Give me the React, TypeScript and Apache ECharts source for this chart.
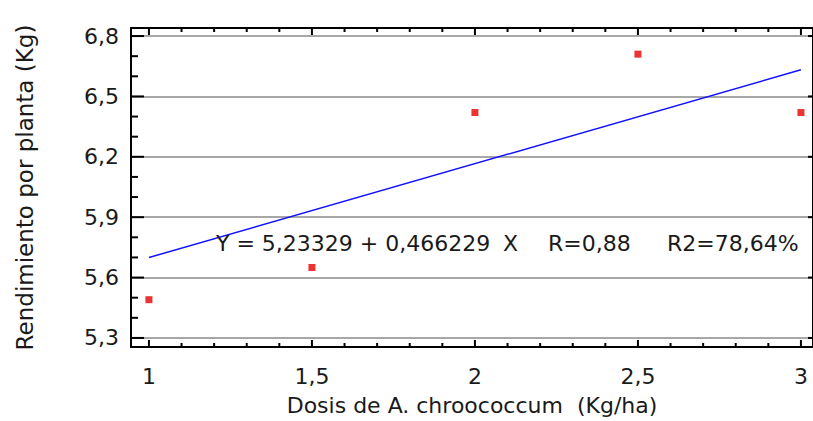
import React, { useEffect, useRef } from "react";
import * as echarts from "echarts";

const doses = [1, 1.5, 2, 2.5, 3];
const yields = [5.49, 5.65, 6.42, 6.71, 6.42];
const fitX = [1, 3];
const fitY = [5.6996, 6.6321];
const xMajor = [1, 1.5, 2, 2.5, 3];
const yMajor = [5.3, 5.6, 5.9, 6.2, 6.5, 6.8];
const xMinorPerMajor = 5;
const yMinorPerMajor = 3;
const xTitle = "Dosis de A. chroococcum  (Kg/ha)";
const yTitle = "Rendimiento por planta (Kg)";
const eqText = "Y = 5,23329 + 0,466229";
const eqX = "X";
const rText = "R=0,88";
const r2Text = "R2=78,64%";

const FONT = "'DejaVu Sans', Verdana, sans-serif";
const TXT = "#1a1a1a";

function tickList(major: number[], split: number) {
  const out: number[][] = [];
  for (let i = 0; i < major.length; i++) {
    out.push([major[i], 1]);
    if (i < major.length - 1) {
      const step = (major[i + 1] - major[i]) / split;
      for (let k = 1; k < split; k++) out.push([+(major[i] + step * k).toFixed(4), 0]);
    }
  }
  return out;
}

export default function App() {
  const ref = useRef<HTMLDivElement>(null);
  useEffect(() => {
    if (!ref.current) return;
    const chart = echarts.init(ref.current, null, { renderer: "svg" });
    const gL = 131, gR = -1, gT = 28, gB = 74;
    const xmin = 0.945, xmax = 3.037, ymin = 5.255, ymax = 6.84;

    const fmtX = (v: number) => String(v).replace(".", ",");
    const fmtY = (v: number) => v.toFixed(1).replace(".", ",");
    const blackLine = { color: "#000", width: 2 };

    const xTicks = tickList(xMajor, xMinorPerMajor);
    const yTicks = tickList(yMajor, yMinorPerMajor);

    const line = (x1: number, y1: number, x2: number, y2: number) => ({
      type: "line", shape: { x1, y1, x2, y2 }, style: { stroke: "#000", lineWidth: 2 },
    });

    const xTickRender = (params: any, api: any) => {
      const v = api.value(0);
      const major = api.value(1) === 1;
      const b = api.coord([v, ymin]);
      const t = api.coord([v, ymax]);
      return {
        type: "group",
        children: [
          line(b[0], b[1], b[0], b[1] - (major ? 7 : 4)),
          line(t[0], t[1], t[0], t[1] + (major ? 7 : 4)),
        ],
      };
    };
    const yTickRender = (params: any, api: any) => {
      const v = api.value(1);
      const major = api.value(0) === 1;
      const l = api.coord([xmin, v]);
      const r = api.coord([xmax, v]);
      const children: any[] = [line(l[0], l[1], l[0] + (major ? 13 : 7), l[1])];
      if (major) children.push(line(r[0], r[1], r[0] - 5, r[1]));
      return { type: "group", children };
    };

    const textStyle = { fontSize: 22, fontFamily: FONT, fill: TXT };
    chart.setOption({
      animation: false,
      backgroundColor: "#fff",
      grid: { left: gL, right: gR, top: gT, bottom: gB, containLabel: false },
      xAxis: [
        {
          type: "value", position: "bottom", min: xmin, max: xmax,
          axisLine: { show: true, onZero: false, lineStyle: blackLine },
          axisTick: { show: false, customValues: xMajor },
          axisLabel: { show: true, customValues: xMajor, formatter: fmtX, margin: 18, fontSize: 22, fontFamily: FONT, color: TXT },
          splitLine: { show: false },
          name: xTitle, nameLocation: "middle", nameGap: 47,
          nameTextStyle: { fontSize: 22, fontFamily: FONT, color: TXT },
        },
        {
          type: "value", position: "top", min: xmin, max: xmax,
          axisLine: { show: true, onZero: false, lineStyle: blackLine },
          axisTick: { show: false }, axisLabel: { show: false }, splitLine: { show: false },
        },
      ],
      yAxis: [
        {
          type: "value", position: "left", min: ymin, max: ymax,
          axisLine: { show: true, onZero: false, lineStyle: blackLine },
          axisTick: { show: false, customValues: yMajor },
          axisLabel: { show: true, customValues: yMajor, formatter: fmtY, margin: 12, fontSize: 22, fontFamily: FONT, color: TXT },
          splitLine: { show: true, lineStyle: { color: "#8a8a8a", width: 1.5 } },
          name: yTitle, nameLocation: "middle", nameGap: 95, nameRotate: 90,
          nameTextStyle: { fontSize: 23, fontFamily: FONT, color: TXT },
        },
        {
          type: "value", position: "right", min: ymin, max: ymax,
          axisLine: { show: true, onZero: false, lineStyle: blackLine },
          axisTick: { show: false }, axisLabel: { show: false }, splitLine: { show: false },
        },
      ],
      graphic: [
        { type: "text", left: 216, top: 232, style: { text: eqText, ...textStyle }, z: 10 },
        { type: "text", left: 503, top: 232, style: { text: eqX, ...textStyle }, z: 10 },
        { type: "text", left: 548, top: 232, style: { text: rText, ...textStyle }, z: 10 },
        { type: "text", left: 667, top: 232, style: { text: r2Text, ...textStyle }, z: 10 },
      ],
      series: [
        {
          type: "custom",
          xAxisIndex: 0, yAxisIndex: 0,
          data: xTicks.map(([v, m]) => [v, m]),
          encode: { x: 0 },
          renderItem: xTickRender,
          silent: true,
          clip: false,
          z: 5,
        },
        {
          type: "custom",
          xAxisIndex: 0, yAxisIndex: 0,
          data: yTicks.map(([v, m]) => [m, v]),
          encode: { y: 1 },
          renderItem: yTickRender,
          silent: true,
          clip: false,
          z: 5,
        },
        {
          type: "line",
          xAxisIndex: 0, yAxisIndex: 0,
          data: fitX.map((x, i) => [x, fitY[i]]),
          showSymbol: false,
          symbol: "none",
          lineStyle: { color: "#1010ff", width: 1.5 },
          z: 3,
        },
        {
          type: "scatter",
          xAxisIndex: 0, yAxisIndex: 0,
          data: doses.map((x, i) => [x, yields[i]]),
          symbol: "rect",
          symbolSize: [7, 7],
          itemStyle: { color: "#e60000" },
          z: 4,
        },
      ],
    });
    return () => chart.dispose();
  }, []);
  return <div ref={ref} style={{ position: "fixed", left: 0, top: 0, width: 813, height: 421 }} />;
}
